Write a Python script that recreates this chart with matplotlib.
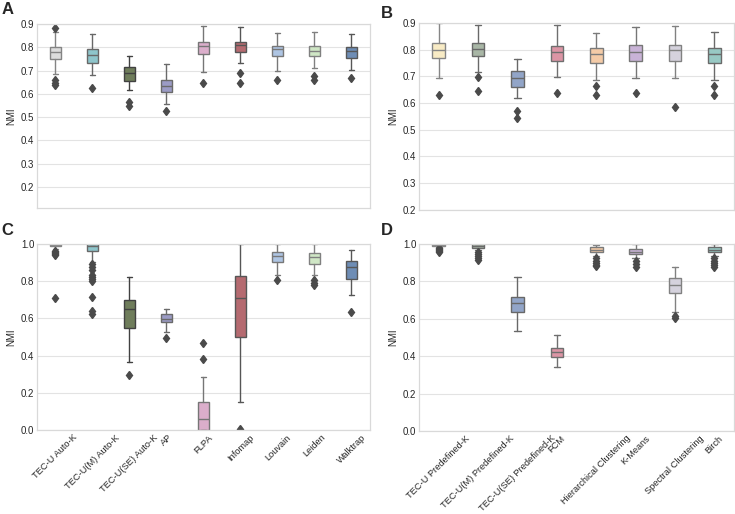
import matplotlib.pyplot as plt
import matplotlib.colors as mcolors
import seaborn as sns
import colorsys

# Data
auto_names = ["TEC-U Auto-K", "TEC-U(M) Auto-K", "TEC-U(SE) Auto-K", "AP", "FLPA",
              "Infomap", "Louvain", "Leiden", "Walktrap"]
auto_colors = ["#dcdcdc", "#8ec5cb", "#6f7d5b", "#9b9bc5", "#dbaecb",
               "#b56a70", "#aec5e3", "#cfe6c5", "#6e8db5"]
pre_names = ["TEC-U Predefined-K", "TEC-U(M) Predefined-K", "TEC-U(SE) Predefined-K", "FCM",
             "Hierarchical Clustering", "K-Means", "Spectral Clustering", "Birch"]
pre_colors = ["#f8ebc5", "#a9b7a6", "#92a5c8", "#dc95a5",
              "#f4cba7", "#c9b3d7", "#d5d2dd", "#98c9c4"]

# A: auto-K, first dataset
a_q1 = [0.748, 0.731, 0.655, 0.608, 0.770, 0.781, 0.763, 0.763, 0.755]
a_med = [0.781, 0.767, 0.690, 0.633, 0.806, 0.811, 0.791, 0.784, 0.783]
a_q3 = [0.800, 0.791, 0.715, 0.661, 0.824, 0.824, 0.806, 0.806, 0.803]
a_lo = [0.685, 0.681, 0.617, 0.555, 0.694, 0.734, 0.698, 0.711, 0.704]
a_hi = [0.867, 0.856, 0.763, 0.727, 0.893, 0.886, 0.860, 0.864, 0.856]
a_fl = [[0.884, 0.660, 0.648, 0.640], [0.627], [0.565, 0.547], [0.525], [0.648],
        [0.690, 0.648], [0.658], [0.675, 0.660], [0.670]]

# B: predefined-K, first dataset
b_q1 = [0.768, 0.777, 0.658, 0.758, 0.751, 0.757, 0.757, 0.751]
b_med = [0.797, 0.804, 0.693, 0.791, 0.783, 0.793, 0.800, 0.783]
b_q3 = [0.825, 0.825, 0.720, 0.812, 0.805, 0.817, 0.816, 0.805]
b_lo = [0.692, 0.715, 0.618, 0.697, 0.687, 0.692, 0.692, 0.686]
b_hi = [0.900, 0.891, 0.766, 0.891, 0.862, 0.885, 0.887, 0.865]
b_fl = [[0.629], [0.697, 0.646], [0.570, 0.545], [0.639], [0.663, 0.631],
        [0.639], [0.585], [0.663, 0.629]]

# C: auto-K, second dataset
c_q1 = [0.990, 0.960, 0.551, 0.578, 0.000, 0.500, 0.901, 0.893, 0.813]
c_med = [0.997, 0.990, 0.649, 0.597, 0.059, 0.709, 0.937, 0.929, 0.875]
c_q3 = [1.000, 1.000, 0.700, 0.621, 0.152, 0.830, 0.958, 0.950, 0.911]
c_lo = [0.975, 0.905, 0.368, 0.527, 0.000, 0.149, 0.836, 0.834, 0.726]
c_hi = [1.000, 1.000, 0.825, 0.653, 0.283, 1.000, 1.000, 1.000, 0.968]
c_fl = [[0.965, 0.958, 0.952, 0.945, 0.940, 0.710],
        [0.890, 0.875, 0.860, 0.835, 0.820, 0.810, 0.800, 0.715, 0.640, 0.625],
        [0.296], [0.493], [0.384, 0.468], [0.004], [0.805],
        [0.807, 0.793, 0.780], [0.637]]

# D: predefined-K, second dataset
d_q1 = [0.990, 0.980, 0.635, 0.394, 0.955, 0.945, 0.736, 0.959]
d_med = [0.997, 0.990, 0.683, 0.422, 0.970, 0.959, 0.781, 0.970]
d_q3 = [1.000, 0.998, 0.715, 0.446, 0.982, 0.973, 0.816, 0.982]
d_lo = [0.985, 0.968, 0.535, 0.344, 0.938, 0.923, 0.635, 0.938]
d_hi = [1.000, 1.000, 0.825, 0.513, 0.996, 1.000, 0.879, 0.998]
d_fl = [[0.980, 0.975, 0.968, 0.962, 0.955], [0.955, 0.945, 0.935, 0.925, 0.915],
        [], [], [0.925, 0.910, 0.900, 0.890, 0.880], [0.909, 0.895, 0.879],
        [0.615, 0.602], [0.925, 0.910, 0.900, 0.890, 0.875]]

sns.set_style("whitegrid")
plt.rcParams['font.family'] = ['Liberation Sans', 'DejaVu Sans']
plt.rcParams['axes.edgecolor'] = '#d9d9d9'
plt.rcParams['grid.color'] = '#e3e3e3'


def line_gray(c):
    r, g, b = mcolors.to_rgb(c)
    l = colorsys.rgb_to_hls(r, g, b)[1] * 0.6
    return (l, l, l)


def draw(ax, q1, med, q3, lo, hi, fl, colors):
    for i in range(len(med)):
        s = dict(q1=q1[i], med=med[i], q3=q3[i], whislo=lo[i], whishi=hi[i], fliers=fl[i])
        lc = line_gray(colors[i])
        ax.bxp([s], positions=[i], widths=0.32, patch_artist=True,
               boxprops=dict(facecolor=colors[i], edgecolor=lc, linewidth=1.0),
               medianprops=dict(color=lc, linewidth=1.0),
               whiskerprops=dict(color=lc, linewidth=1.0),
               capprops=dict(color=lc, linewidth=1.0),
               flierprops=dict(marker='d', markersize=4.5, markerfacecolor='#4a4a4a',
                               markeredgecolor='#4a4a4a'),
               manage_ticks=False)
    ax.set_xlim(-0.5, len(med) - 0.5)
    ax.set_ylabel("NMI", fontsize=7, labelpad=3)
    ax.tick_params(axis='both', labelsize=7, length=0, pad=2)
    ax.grid(axis='x', visible=False)
    for sp in ax.spines.values():
        sp.set_linewidth(0.9)


fig = plt.figure(figsize=(7.35, 5.14), dpi=100)
axA = fig.add_axes([0.0503, 0.5953, 0.4531, 0.3580])
axB = fig.add_axes([0.5701, 0.5924, 0.4286, 0.3628])
axC = fig.add_axes([0.0503, 0.1634, 0.4531, 0.3619])
axD = fig.add_axes([0.5701, 0.1615, 0.4286, 0.3638])

draw(axA, a_q1, a_med, a_q3, a_lo, a_hi, a_fl, auto_colors)
draw(axB, b_q1, b_med, b_q3, b_lo, b_hi, b_fl, pre_colors)
draw(axC, c_q1, c_med, c_q3, c_lo, c_hi, c_fl, auto_colors)
draw(axD, d_q1, d_med, d_q3, d_lo, d_hi, d_fl, pre_colors)

axA.set_ylim(0.11, 0.9)
axA.set_yticks([0.2, 0.3, 0.4, 0.5, 0.6, 0.7, 0.8, 0.9])
axB.set_ylim(0.2, 0.9)
axB.set_yticks([0.2, 0.3, 0.4, 0.5, 0.6, 0.7, 0.8, 0.9])
for ax in (axC, axD):
    ax.set_ylim(0.0, 1.0)
    ax.set_yticks([0.0, 0.2, 0.4, 0.6, 0.8, 1.0])
for ax in (axA, axB):
    ax.set_xticks([])
axC.set_xticks(range(len(auto_names)))
axC.set_xticklabels(auto_names, rotation=45, fontsize=6.7)
axD.set_xticks(range(len(pre_names)))
axD.set_xticklabels(pre_names, rotation=45, fontsize=6.7)

fig.text(0.002, 0.997, "A", fontsize=12, fontweight='bold', va='top')
fig.text(0.518, 0.989, "B", fontsize=12, fontweight='bold', va='top')
fig.text(0.002, 0.566, "C", fontsize=12, fontweight='bold', va='top')
fig.text(0.518, 0.566, "D", fontsize=12, fontweight='bold', va='top')

fig.savefig("out.png", dpi=100)
